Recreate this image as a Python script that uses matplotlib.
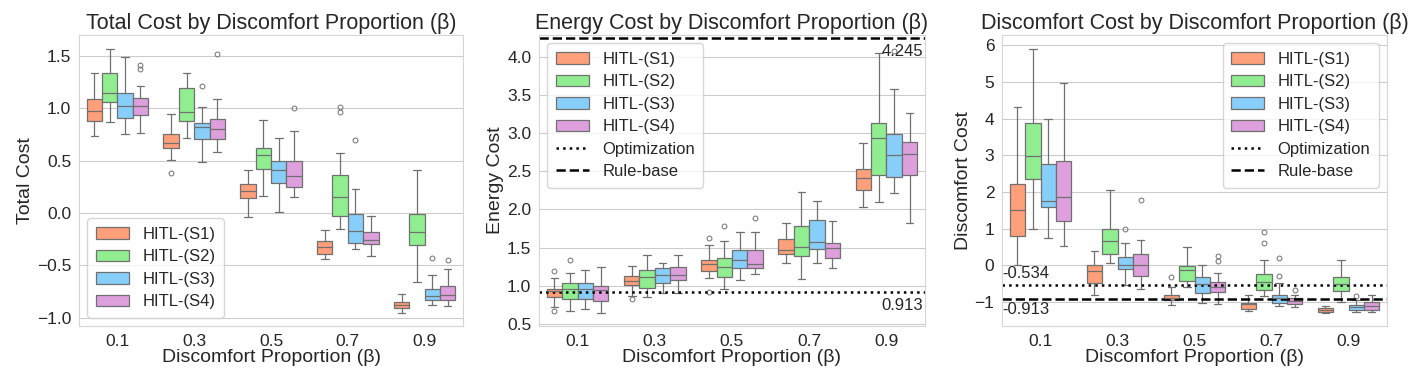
import matplotlib
matplotlib.use("Agg")
import matplotlib.pyplot as plt
import seaborn as sns
from matplotlib.patches import Patch
from matplotlib.lines import Line2D
import matplotlib.transforms as mtrans

sns.set_style("whitegrid")
plt.rcParams['font.family'] = ['Liberation Sans', 'DejaVu Sans']

betas = ['0.1', '0.3', '0.5', '0.7', '0.9']
series = ['HITL-(S1)', 'HITL-(S2)', 'HITL-(S3)', 'HITL-(S4)']
colors = ['#FFA07A', '#90EE90', '#87CEFA', '#DDA0DD']

# box stats: one row per series, one column per beta
# Total cost
total_med = [[0.975, 0.672, 0.213, -0.328, -0.879],
             [1.143, 0.962, 0.554, 0.156, -0.185],
             [1.022, 0.822, 0.411, -0.172, -0.793],
             [1.022, 0.803, 0.357, -0.258, -0.783]]
total_q1 = [[0.88, 0.624, 0.146, -0.395, -0.911],
            [1.057, 0.876, 0.42, -0.025, -0.306],
            [0.91, 0.707, 0.287, -0.29, -0.834],
            [0.933, 0.71, 0.252, -0.299, -0.834]]
total_q3 = [[1.09, 0.755, 0.274, -0.271, -0.854],
            [1.334, 1.197, 0.618, 0.363, -0.013],
            [1.15, 0.857, 0.5, -0.013, -0.729],
            [1.096, 0.901, 0.494, -0.185, -0.697]]
total_lo = [[0.735, 0.503, -0.035, -0.443, -0.959],
            [0.866, 0.717, 0.159, -0.15, -0.656],
            [0.755, 0.484, 0.01, -0.344, -0.876],
            [0.761, 0.586, 0.156, -0.411, -0.892]]
total_hi = [[1.334, 0.949, 0.414, -0.166, -0.777],
            [1.567, 1.334, 0.889, 0.573, 0.414],
            [1.487, 1.016, 0.717, 0.229, -0.596],
            [1.217, 1.092, 0.78, -0.032, -0.532]]
total_fl = [[[], [0.385], [], [], []],
            [[], [], [], [1.016, 0.962], []],
            [[], [1.21], [], [0.697], [-0.427]],
            [[1.41, 1.376], [1.519], [1.0], [], [-0.449]]]

# Energy cost
energy_med = [[0.926, 1.066, 1.284, 1.468, 2.409],
              [0.956, 1.109, 1.245, 1.512, 2.943],
              [0.96, 1.14, 1.337, 1.573, 2.716],
              [0.94, 1.14, 1.284, 1.499, 2.729]]
energy_q1 = [[0.847, 1.009, 1.193, 1.411, 2.256],
             [0.825, 0.974, 1.109, 1.394, 2.453],
             [0.825, 1.039, 1.228, 1.481, 2.422],
             [0.80, 1.074, 1.228, 1.368, 2.453]]
energy_q3 = [[0.956, 1.131, 1.337, 1.617, 2.536],
             [1.03, 1.2, 1.359, 1.779, 3.131],
             [1.03, 1.228, 1.468, 1.862, 2.987],
             [1.0, 1.25, 1.468, 1.556, 2.886]]
energy_lo = [[0.724, 0.869, 1.1, 1.293, 2.033],
             [0.67, 0.851, 0.961, 1.088, 2.103],
             [0.69, 0.9, 1.074, 1.293, 2.212],
             [0.64, 0.9, 1.149, 1.228, 1.827]]
energy_hi = [[1.105, 1.254, 1.534, 1.827, 2.877],
             [1.16, 1.398, 1.582, 2.225, 4.059],
             [1.20, 1.293, 1.705, 2.107, 3.578],
             [1.24, 1.398, 1.705, 1.849, 3.271]]
energy_fl = [[[1.19, 0.667], [0.82], [1.621, 0.917], [], []],
             [[1.333], [], [1.779], [], []],
             [[], [], [], [], [4.08]],
             [[], [], [1.893], [], []]]

# Discomfort cost
disc_med = [[1.5, -0.15, -0.88, -1.06, -1.22],
            [2.97, 0.67, -0.14, -0.45, -0.51],
            [1.75, 0.01, -0.52, -0.9, -1.13],
            [1.85, 0.0, -0.58, -0.97, -1.11]]
disc_q1 = [[0.79, -0.47, -0.95, -1.2, -1.26],
           [2.34, 0.32, -0.43, -0.67, -0.7],
           [1.58, -0.11, -0.76, -1.04, -1.22],
           [1.22, -0.29, -0.74, -1.05, -1.22]]
disc_q3 = [[2.22, 0.0, -0.8, -1.02, -1.17],
           [3.88, 1.0, -0.01, -0.25, -0.33],
           [2.77, 0.22, -0.32, -0.8, -1.08],
           [2.84, 0.3, -0.45, -0.9, -0.99]]
disc_lo = [[0.0, -0.82, -1.08, -1.24, -1.31],
           [1.0, 0.05, -0.6, -0.85, -0.99],
           [0.74, -0.55, -1.04, -1.1, -1.26],
           [0.54, -0.65, -1.05, -1.13, -1.26]]
disc_hi = [[4.31, 0.39, -0.58, -0.81, -1.11],
           [5.9, 2.04, 0.49, 0.15, 0.15],
           [3.99, 0.61, 0.0, -0.49, -0.95],
           [4.97, 0.69, -0.22, -0.8, -0.81]]
disc_fl = [[[], [], [-0.33], [], []],
           [[], [], [], [0.9, 0.62], []],
           [[], [1.0], [], [0.21, -0.3], [-0.83]],
           [[], [1.79], [0.25, 0.11], [-0.66], []]]

# reference lines
energy_opt, energy_rule = 0.913, 4.245
disc_opt, disc_rule = -0.534, -0.913

line_gray = '#707070'
TICK, LAB, TITLE, LEG = 12.5, 14, 15.5, 12


def draw_boxes(ax, med, q1, q3, lo, hi, fl):
    w = 0.2
    for s in range(len(series)):
        stats = []
        for b in range(len(betas)):
            stats.append(dict(med=med[s][b], q1=q1[s][b], q3=q3[s][b],
                              whislo=lo[s][b], whishi=hi[s][b],
                              fliers=fl[s][b]))
        pos = [b + (s - 1.5) * w for b in range(len(betas))]
        ax.bxp(stats, positions=pos, widths=w, patch_artist=True,
               manage_ticks=False,
               boxprops=dict(facecolor=colors[s], edgecolor=line_gray, linewidth=0.9),
               medianprops=dict(color=line_gray, linewidth=0.9),
               whiskerprops=dict(color=line_gray, linewidth=0.9),
               capprops=dict(color=line_gray, linewidth=0.9),
               capwidths=w * 0.5,
               flierprops=dict(marker='o', markersize=3.5, markerfacecolor='none',
                               markeredgecolor=line_gray, markeredgewidth=0.7))
    ax.set_xticks(range(len(betas)))
    ax.set_xticklabels(betas)
    ax.set_xlim(-0.5, len(betas) - 0.5)
    ax.xaxis.grid(False)
    ax.tick_params(labelsize=TICK, pad=2)
    ax.set_xlabel('Discomfort Proportion (β)', fontsize=LAB, labelpad=0)
    for sp in ax.spines.values():
        sp.set_color('#d5d5d5')


fig = plt.figure(figsize=(14.1, 3.81), dpi=100)
W, H = 1410, 381
top, bot = 35, 326
ax1 = fig.add_axes([79 / W, 1 - bot / H, (463 - 79) / W, (bot - top) / H])
ax2 = fig.add_axes([539 / W, 1 - bot / H, (925 - 539) / W, (bot - top) / H])
ax3 = fig.add_axes([1002 / W, 1 - bot / H, (1387 - 1002) / W, (bot - top) / H])

patches = [Patch(facecolor=c, edgecolor=line_gray, linewidth=0.9, label=n)
           for c, n in zip(colors, series)]
extra = [Line2D([], [], color='black', linestyle=':', linewidth=1.8, label='Optimization'),
         Line2D([], [], color='black', linestyle='--', linewidth=1.8, label='Rule-base')]
leg_kw = dict(fontsize=LEG, labelspacing=0.45, handlelength=2.0, borderpad=0.5)

# Total cost
draw_boxes(ax1, total_med, total_q1, total_q3, total_lo, total_hi, total_fl)
ax1.set_ylim(-1.08, 1.70)
ax1.set_yticks([-1.0, -0.5, 0.0, 0.5, 1.0, 1.5])
ax1.set_ylabel('Total Cost', fontsize=LAB, labelpad=2)
ax1.set_title('Total Cost by Discomfort Proportion (β)', fontsize=TITLE, pad=4)
ax1.legend(handles=patches, loc='lower left', **leg_kw)

# Energy cost
draw_boxes(ax2, energy_med, energy_q1, energy_q3, energy_lo, energy_hi, energy_fl)
ax2.axhline(energy_opt, color='black', linestyle=':', linewidth=1.8)
ax2.axhline(energy_rule, color='black', linestyle='--', linewidth=1.8)
ax2.set_ylim(0.47, 4.29)
ax2.set_yticks([0.5, 1.0, 1.5, 2.0, 2.5, 3.0, 3.5, 4.0])
ax2.set_ylabel('Energy Cost', fontsize=LAB, labelpad=2)
ax2.set_title('Energy Cost by Discomfort Proportion (β)', fontsize=TITLE, pad=4)
ax2.legend(handles=patches + extra, loc='upper left', **leg_kw)
tr2 = mtrans.blended_transform_factory(ax2.transAxes, ax2.transData)
ax2.annotate(f'{energy_rule:.3f}', xy=(0.995, energy_rule), xycoords=tr2,
             xytext=(0, -4), textcoords='offset points', ha='right', va='top', fontsize=LEG)
ax2.annotate(f'{energy_opt:.3f}', xy=(0.995, energy_opt), xycoords=tr2,
             xytext=(0, -4), textcoords='offset points', ha='right', va='top', fontsize=LEG)

# Discomfort cost
draw_boxes(ax3, disc_med, disc_q1, disc_q3, disc_lo, disc_hi, disc_fl)
ax3.axhline(disc_opt, color='black', linestyle=':', linewidth=1.8)
ax3.axhline(disc_rule, color='black', linestyle='--', linewidth=1.8)
ax3.set_ylim(-1.655, 6.28)
ax3.set_yticks([-1, 0, 1, 2, 3, 4, 5, 6])
ax3.set_ylabel('Discomfort Cost', fontsize=LAB, labelpad=2)
ax3.set_title('Discomfort Cost by Discomfort Proportion (β)', fontsize=TITLE, pad=4)
ax3.legend(handles=patches + extra, loc='upper right', **leg_kw)
tr3 = mtrans.blended_transform_factory(ax3.transAxes, ax3.transData)
ax3.annotate(f'{disc_opt:.3f}', xy=(0.0, disc_opt), xycoords=tr3,
             xytext=(0, 3), textcoords='offset points', ha='left', va='bottom', fontsize=LEG)
ax3.annotate(f'{disc_rule:.3f}', xy=(0.0, disc_rule), xycoords=tr3,
             xytext=(0, -2), textcoords='offset points', ha='left', va='top', fontsize=LEG)

fig.savefig('out.png', dpi=100)
